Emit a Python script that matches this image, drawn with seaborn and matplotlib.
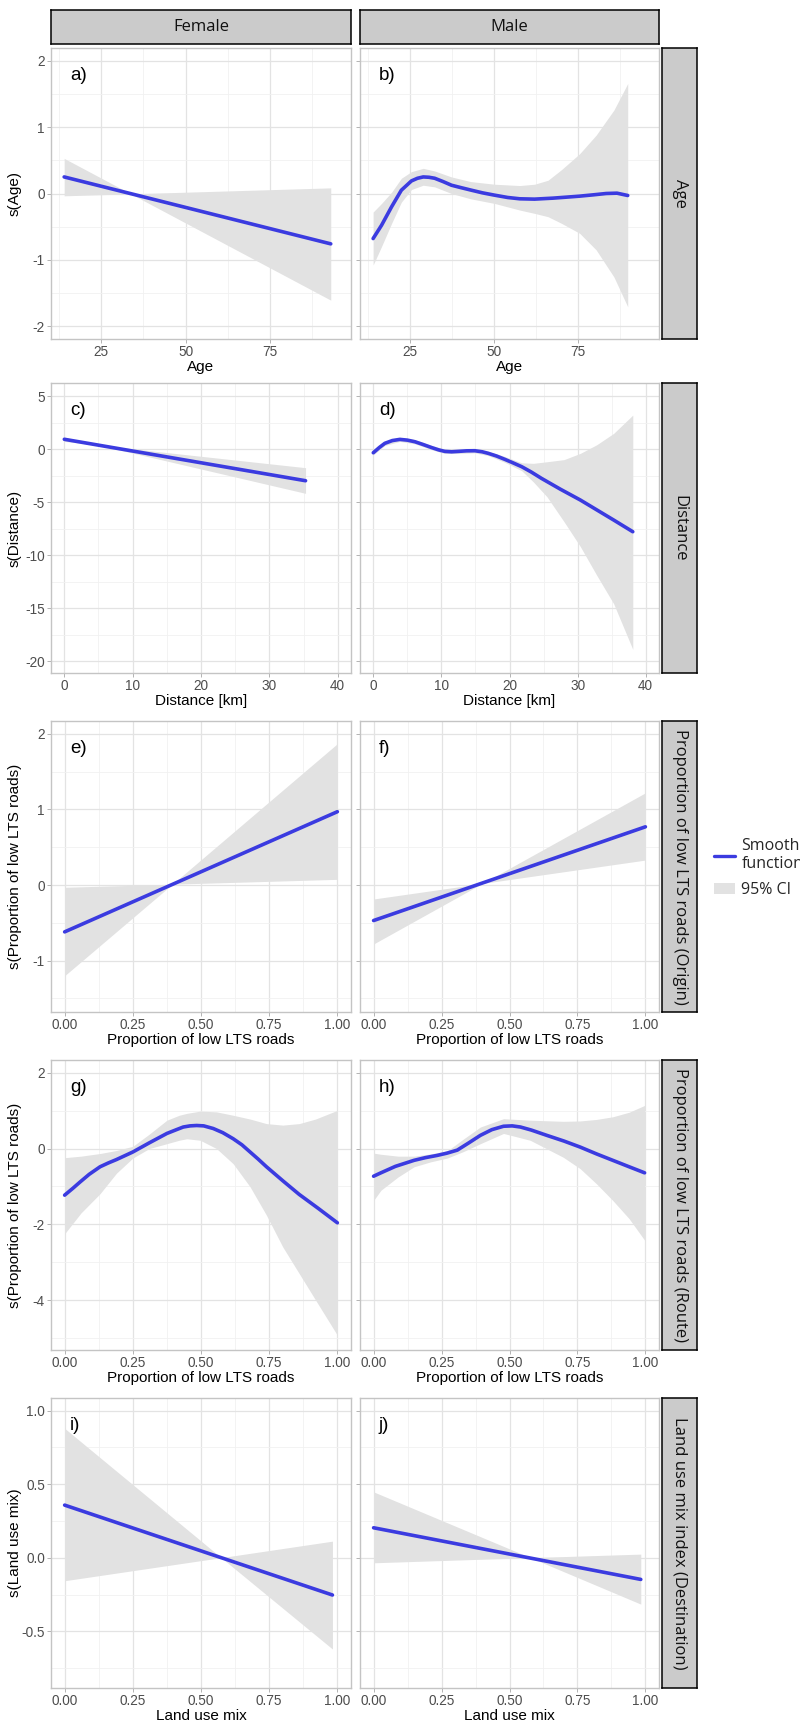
import matplotlib
matplotlib.use("Agg")
import matplotlib.pyplot as plt
import seaborn as sns
from matplotlib.lines import Line2D
from matplotlib.patches import Patch
from matplotlib.ticker import FixedLocator, AutoMinorLocator, FormatStrFormatter

# ---- data ------------------------------------------------------------------
# a) Age, female
age_f_x = [14, 93]
age_f_fit = [0.25, -0.76]
age_f_band_x = [14, 33.75, 93]
age_f_hi = [0.53, -0.005, 0.085]
age_f_lo = [-0.035, -0.005, -1.61]

# b) Age, male
age_m_x = [14, 16.5, 19.5, 22.4, 25.4, 27.2, 28.9, 30.6, 32.3, 34.8, 37.3, 40, 43.2, 46.5, 50.1,
           54, 57.6, 62, 67.5, 71.5, 75.4, 79.5, 83.3, 86.5, 89.7]
age_m_fit = [-0.68, -0.48, -0.20, 0.05, 0.19, 0.23, 0.25, 0.245, 0.23, 0.18, 0.125, 0.09, 0.05, 0.01, -0.025,
             -0.06, -0.08, -0.085, -0.07, -0.055, -0.04, -0.02, 0.0, 0.005, -0.03]
age_m_band_x = [14, 16.5, 19.5, 22.4, 25.4, 28.9, 32.3, 37.3, 43, 50.1, 57.6, 62, 66, 70, 75.4, 80.3, 85.6, 89.7]
age_m_hi = [-0.28, -0.15, 0.02, 0.23, 0.33, 0.38, 0.34, 0.25, 0.18, 0.14, 0.12, 0.14, 0.2, 0.36, 0.6, 0.88, 1.26, 1.66]
age_m_lo = [-1.08, -0.8, -0.45, -0.13, 0.06, 0.125, 0.10, 0.0, -0.08, -0.15, -0.25, -0.3, -0.35, -0.45, -0.6, -0.85, -1.26, -1.71]

# c) Distance, female
dist_f_x = [0, 35.3]
dist_f_fit = [0.92, -2.99]
dist_f_band_x = [0, 5, 35.3]
dist_f_hi = [1.12, 0.37, -1.76]
dist_f_lo = [0.72, 0.37, -4.18]

# d) Distance, male
dist_m_x = [0, 0.9, 1.7, 2.8, 3.9, 5, 6.1, 7.3, 8.6, 9.6, 10.5, 11.5, 12.5, 13.7, 14.9, 16, 16.9,
            18.1, 19.3, 20.5, 21.8, 23.2, 24.7, 27.5, 30.4, 35.3, 38.1]
dist_m_fit = [-0.35, 0.15, 0.54, 0.8, 0.91, 0.84, 0.69, 0.43, 0.13, -0.08, -0.22, -0.26, -0.22, -0.17, -0.16,
              -0.26, -0.41, -0.66, -0.97, -1.3, -1.67, -2.17, -2.77, -3.8, -4.81, -6.7, -7.8]
dist_m_band_x = [0, 1.7, 3.9, 6.1, 8.6, 10.5, 12.5, 14.9, 16.9, 19.3, 21.8, 23.5, 25.5, 28, 30.4, 32.8, 35.3, 38.1]
dist_m_hi = [-0.15, 0.74, 1.1, 0.89, 0.33, -0.02, -0.02, 0.04, -0.22, -0.7, -1.3, -1.35, -1.2, -1.0, -0.41, 0.4, 1.48, 3.2]
dist_m_lo = [-0.55, 0.34, 0.72, 0.49, -0.07, -0.42, -0.42, -0.36, -0.62, -1.25, -2.05, -3.1, -4.5, -6.85, -9.2, -11.9, -14.6, -18.9]

# e) Low LTS (origin), female
orig_f_x = [0, 1.0]
orig_f_fit = [-0.62, 0.97]
orig_f_band_x = [0, 0.395, 1.0]
orig_f_hi = [-0.03, 0.011, 1.87]
orig_f_lo = [-1.2, 0.011, 0.075]

# f) Low LTS (origin), male
orig_m_x = [0, 1.0]
orig_m_fit = [-0.47, 0.77]
orig_m_band_x = [0, 0.40, 1.0]
orig_m_hi = [-0.185, 0.021, 1.22]
orig_m_lo = [-0.78, 0.021, 0.33]

# g) Low LTS (route), female
route_f_x = [0, 0.03, 0.057, 0.09, 0.13, 0.16, 0.19, 0.25, 0.31, 0.375, 0.41, 0.435, 0.46, 0.484, 0.51,
             0.545, 0.58, 0.618, 0.65, 0.68, 0.71, 0.74, 0.8, 0.86, 0.93, 1.0]
route_f_fit = [-1.23, -1.05, -0.88, -0.68, -0.48, -0.38, -0.29, -0.09, 0.15, 0.40, 0.5, 0.57, 0.6, 0.61, 0.6,
               0.53, 0.42, 0.26, 0.1, -0.09, -0.28, -0.48, -0.85, -1.21, -1.58, -1.96]
route_f_band_x = [0, 0.06, 0.13, 0.19, 0.25, 0.31, 0.375, 0.42, 0.448, 0.497, 0.557, 0.618, 0.68, 0.74, 0.80, 0.86, 0.92, 1.0]
route_f_hi = [-0.24, -0.2, -0.13, -0.05, 0.06, 0.38, 0.75, 0.88, 0.93, 0.99, 0.97, 0.88, 0.78, 0.66, 0.62, 0.66, 0.78, 1.01]
route_f_lo = [-2.25, -1.7, -1.19, -0.65, -0.25, 0.0, 0.13, 0.22, 0.26, 0.22, 0.0, -0.4, -1.01, -1.76, -2.6, -3.3, -4.0, -4.93]

# h) Low LTS (route), male
route_m_x = [0, 0.027, 0.08, 0.149, 0.19, 0.234, 0.27, 0.308, 0.35, 0.393, 0.435, 0.478, 0.51, 0.54, 0.58,
             0.637, 0.70, 0.76, 0.82, 0.88, 0.94, 0.997]
route_m_fit = [-0.73, -0.64, -0.47, -0.31, -0.24, -0.18, -0.12, -0.04, 0.15, 0.35, 0.5, 0.59, 0.6, 0.57, 0.49,
               0.35, 0.2, 0.04, -0.14, -0.31, -0.48, -0.64]
route_m_band_x = [0, 0.027, 0.09, 0.149, 0.21, 0.271, 0.33, 0.393, 0.478, 0.576, 0.698, 0.76, 0.82, 0.88, 0.94, 0.997]
route_m_hi = [-0.12, -0.15, -0.2, -0.2, -0.14, -0.06, 0.25, 0.57, 0.79, 0.75, 0.72, 0.73, 0.77, 0.84, 0.96, 1.14]
route_m_lo = [-1.37, -1.1, -0.75, -0.48, -0.35, -0.25, -0.08, 0.13, 0.40, 0.22, -0.23, -0.53, -0.93, -1.37, -1.85, -2.42]

# i) Land use mix, female
lum_f_x = [0, 0.982]
lum_f_fit = [0.358, -0.253]
lum_f_band_x = [0, 0.574, 0.982]
lum_f_hi = [0.88, 0.001, 0.113]
lum_f_lo = [-0.156, 0.001, -0.62]

# j) Land use mix, male
lum_m_x = [0, 0.983]
lum_m_fit = [0.204, -0.147]
lum_m_band_x = [0, 0.577, 0.983]
lum_m_hi = [0.448, 0.001, 0.025]
lum_m_lo = [-0.034, 0.001, -0.315]

sexes = ["Female", "Male"]
row_strips = ["Age", "Distance", "Proportion of low LTS roads (Origin)",
              "Proportion of low LTS roads (Route)", "Land use mix index (Destination)"]
x_titles = ["Age", "Distance [km]", "Proportion of low LTS roads",
            "Proportion of low LTS roads", "Land use mix"]
y_titles = ["s(Age)", "s(Distance)", "s(Proportion of low LTS roads)",
            "s(Proportion of low LTS roads)", "s(Land use mix)"]
panel_letters = [["a)", "b)"], ["c)", "d)"], ["e)", "f)"], ["g)", "h)"], ["i)", "j)"]]

x_ticks = [[25, 50, 75], [0, 10, 20, 30, 40], [0, 0.25, 0.5, 0.75, 1.0],
           [0, 0.25, 0.5, 0.75, 1.0], [0, 0.25, 0.5, 0.75, 1.0]]
y_ticks = [[-2, -1, 0, 1, 2], [-20, -15, -10, -5, 0, 5], [-1, 0, 1, 2],
           [-4, -2, 0, 2], [-0.5, 0.0, 0.5, 1.0]]
x_lims = [(10.1, 99.0), (-1.95, 41.95), (-0.05, 1.05), (-0.05, 1.05), (-0.05, 1.05)]
y_lims = [(-2.196, 2.196), (-21.13, 6.23), (-1.68, 2.17), (-5.32, 2.34), (-0.885, 1.086)]
x_fmt = ["%d", "%d", "%.2f", "%.2f", "%.2f"]
y_fmt = ["%d", "%d", "%d", "%d", "%.1f"]

curves = [
    [(age_f_x, age_f_fit, age_f_band_x, age_f_hi, age_f_lo),
     (age_m_x, age_m_fit, age_m_band_x, age_m_hi, age_m_lo)],
    [(dist_f_x, dist_f_fit, dist_f_band_x, dist_f_hi, dist_f_lo),
     (dist_m_x, dist_m_fit, dist_m_band_x, dist_m_hi, dist_m_lo)],
    [(orig_f_x, orig_f_fit, orig_f_band_x, orig_f_hi, orig_f_lo),
     (orig_m_x, orig_m_fit, orig_m_band_x, orig_m_hi, orig_m_lo)],
    [(route_f_x, route_f_fit, route_f_band_x, route_f_hi, route_f_lo),
     (route_m_x, route_m_fit, route_m_band_x, route_m_hi, route_m_lo)],
    [(lum_f_x, lum_f_fit, lum_f_band_x, lum_f_hi, lum_f_lo),
     (lum_m_x, lum_m_fit, lum_m_band_x, lum_m_hi, lum_m_lo)],
]

# ---- style ------------------------------------------------------------------
sns.set_style("white")
plt.rcParams["font.family"] = ["Liberation Sans", "DejaVu Sans"]
plt.rcParams["axes.unicode_minus"] = True
STRIP_FONT = ["Open Sans", "DejaVu Sans"]
LINE_COL = "#3b3be0"
BAND_COL = "#e2e2e2"
STRIP_COL = "#cbcbcb"

W, H = 800, 1730
fig = plt.figure(figsize=(W / 100, H / 100), dpi=100)


def rect(x0, y0, x1, y1):
    return [x0 / W, 1 - y1 / H, (x1 - x0) / W, (y1 - y0) / H]


def strip(x0, y0, x1, y1, label, rot):
    sax = fig.add_axes(rect(x0, y0, x1, y1))
    sax.set_facecolor(STRIP_COL)
    sax.set_xticks([]); sax.set_yticks([])
    for s in sax.spines.values():
        s.set_color("black"); s.set_linewidth(1.1)
    sax.text(0.5, 0.5, label, ha="center", va="center", rotation=rot,
             fontsize=12, family=STRIP_FONT, color="#111111",
             transform=sax.transAxes)


col_x = [(51, 351), (360, 659)]
row_y = [(48, 339), (383, 673), (721, 1012), (1060, 1350), (1398, 1688)]

for (x0, x1), sex in zip(col_x, sexes):
    strip(x0, 10, x1, 44, sex, 0)

for r, (y0, y1) in enumerate(row_y):
    strip(662, y0, 697, y1, row_strips[r], -90)

    for c, (x0, x1) in enumerate(col_x):
        ax = fig.add_axes(rect(x0, y0, x1, y1))
        xs, fit, bx, hi, lo = curves[r][c]
        ax.fill_between(bx, lo, hi, color=BAND_COL, linewidth=0, zorder=2)
        sns.lineplot(x=xs, y=fit, ax=ax, color=LINE_COL, linewidth=2.6,
                     sort=False, zorder=3)
        ax.lines[-1].set_solid_joinstyle("round")

        ax.set_xlim(*x_lims[r]); ax.set_ylim(*y_lims[r])
        ax.xaxis.set_major_locator(FixedLocator(x_ticks[r]))
        ax.yaxis.set_major_locator(FixedLocator(y_ticks[r]))
        ax.xaxis.set_minor_locator(AutoMinorLocator(2))
        ax.yaxis.set_minor_locator(AutoMinorLocator(2))
        ax.xaxis.set_major_formatter(FormatStrFormatter(x_fmt[r]))
        ax.yaxis.set_major_formatter(FormatStrFormatter(y_fmt[r]))
        ax.grid(True, which="major", color="#e3e3e3", linewidth=0.9, zorder=0)
        ax.grid(True, which="minor", color="#f1f1f1", linewidth=0.6, zorder=0)
        ax.set_axisbelow(True)
        ax.tick_params(which="major", length=2.8, width=0.7, color="#b3b3b3",
                       labelsize=9.8, labelcolor="#4d4d4d", pad=1.6,
                       bottom=True, left=True)
        ax.tick_params(which="minor", length=0)
        for s in ax.spines.values():
            s.set_color("#c4c4c4"); s.set_linewidth(1.0)

        ax.set_xlabel(x_titles[r], fontsize=11, color="black")
        ax.xaxis.set_label_coords(0.5, -0.072)
        ax.xaxis.label.set_va("top")
        if c == 0:
            ax.set_ylabel(y_titles[r], fontsize=11, color="black")
            ax.yaxis.set_label_coords(-0.098, 0.5)
        else:
            ax.set_ylabel("")
            ax.set_yticklabels([])

        ax.text(0.063, 0.905, panel_letters[r][c], transform=ax.transAxes,
                ha="left", va="center", fontsize=13.5, color="black")

# legend
handles = [Line2D([0], [0], color=LINE_COL, linewidth=2.4),
           Patch(facecolor=BAND_COL, edgecolor="none")]
fig.legend(handles, ["Smooth\nfunction", "95% CI"], loc="center left",
           bbox_to_anchor=(703 / W, 1 - 868 / H), frameon=False,
           prop={"family": STRIP_FONT, "size": 11.5}, handlelength=1.3,
           handletextpad=0.4, labelspacing=0.6, borderpad=0.2)

fig.savefig("out.png", dpi=100)
